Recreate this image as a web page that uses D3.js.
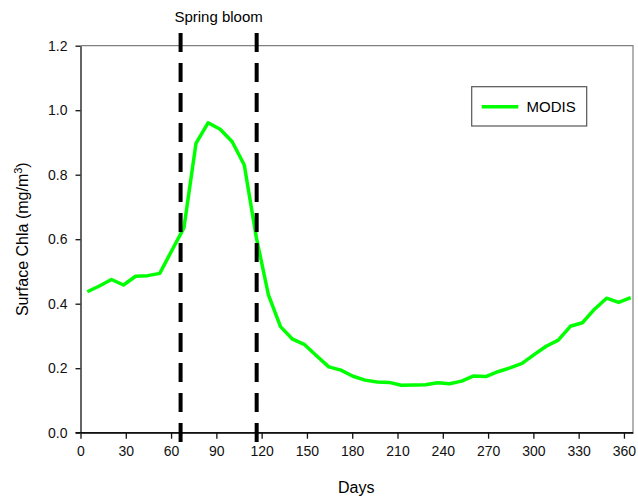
<!DOCTYPE html>
<html>
<head>
<meta charset="utf-8">
<script src="https://cdn.jsdelivr.net/npm/d3@7"></script>
<style>
  body { margin: 0; background: #fff; }
  svg { display: block; font-family: "Liberation Sans", Arial, sans-serif; }
  .tick text { font-size: 14px; fill: #111; }
</style>
</head>
<body>
<svg id="chart" width="638" height="497"></svg>
<script>
// 8-day composite centres (day of year) and surface Chla values (mg/m3)
const days = [4.5, 12.5, 20.5, 28.5, 36.5, 44.5, 52.5, 60.5, 68.5, 76.5, 84.5, 92.5,
  100.5, 108.5, 116.5, 124.5, 132.5, 140.5, 148.5, 156.5, 164.5, 172.5, 180.5, 188.5,
  196.5, 204.5, 212.5, 220.5, 228.5, 236.5, 244.5, 252.5, 260.5, 268.5, 276.5, 284.5,
  292.5, 300.5, 308.5, 316.5, 324.5, 332.5, 340.5, 348.5, 356.5, 364.5];
const chla = [0.437, 0.455, 0.475, 0.458, 0.485, 0.487, 0.494, 0.565, 0.635, 0.897, 0.961, 0.941,
  0.902, 0.830, 0.605, 0.427, 0.329, 0.290, 0.273, 0.238, 0.204, 0.194, 0.175, 0.163,
  0.157, 0.156, 0.147, 0.148, 0.149, 0.155, 0.152, 0.160, 0.176, 0.174, 0.189, 0.201,
  0.215, 0.242, 0.268, 0.287, 0.330, 0.341, 0.383, 0.417, 0.404, 0.419];
const bloomDays = [66.3, 116.7];
const xTicks = [0, 30, 60, 90, 120, 150, 180, 210, 240, 270, 300, 330, 360];
const yTicks = [0, 0.2, 0.4, 0.6, 0.8, 1.0, 1.2];
const seriesName = "MODIS";

const svg = d3.select("#chart");
const plotLeft = 80.5, plotRight = 633, plotTop = 45.7, plotBottom = 432.7;

const x = d3.scaleLinear().domain([0, 366]).range([plotLeft, plotRight]);
const y = d3.scaleLinear().domain([0, 1.2]).range([plotBottom, plotTop]);

// top and right frame (grey)
svg.append("path")
  .attr("d", `M${plotLeft},${plotTop}H${plotRight}V${plotBottom}`)
  .attr("fill", "none")
  .attr("stroke", "#808080")
  .attr("stroke-width", 1.2);

const yAxis = svg.append("g")
  .attr("transform", `translate(${plotLeft},0)`)
  .call(d3.axisLeft(y).tickValues(yTicks).tickFormat(d3.format(".1f")).tickSize(5).tickSizeOuter(0).tickPadding(8));

const xAxis = svg.append("g")
  .attr("transform", `translate(0,${plotBottom})`)
  .call(d3.axisBottom(x).tickValues(xTicks).tickSize(6).tickSizeOuter(0).tickPadding(7));

[xAxis, yAxis].forEach((g) => {
  g.selectAll("path, line").attr("stroke", "#111").attr("stroke-width", 1.3);
  g.selectAll("text").style("font-family", "Liberation Sans, Arial, sans-serif");
});
// extend bottom axis line under the 0.0 tick
svg.append("line")
  .attr("x1", plotLeft - 5).attr("x2", plotRight)
  .attr("y1", plotBottom).attr("y2", plotBottom)
  .attr("stroke", "#111").attr("stroke-width", 1.3);

const line = d3.line()
  .x((d, i) => x(days[i]))
  .y((d) => y(d));

svg.append("path")
  .datum(chla)
  .attr("fill", "none")
  .attr("stroke", "#00ff00")
  .attr("stroke-width", 3.5)
  .attr("stroke-linejoin", "round")
  .attr("d", line);

// spring bloom bounds
svg.selectAll("line.bloom")
  .data(bloomDays)
  .join("line")
  .attr("class", "bloom")
  .attr("x1", (d) => x(d)).attr("x2", (d) => x(d))
  .attr("y1", 33).attr("y2", 445)
  .attr("stroke", "#000")
  .attr("stroke-width", 4)
  .attr("stroke-dasharray", "19,11");

svg.append("text")
  .attr("x", (x(bloomDays[0]) + x(bloomDays[1])) / 2)
  .attr("y", 22)
  .attr("text-anchor", "middle")
  .style("font-size", "15px")
  .text("Spring bloom");

// legend
const legend = svg.append("g");
legend.append("rect")
  .attr("x", 471.7).attr("y", 86.7)
  .attr("width", 115).attr("height", 39.3)
  .attr("fill", "#fff")
  .attr("stroke", "#555")
  .attr("stroke-width", 1.2);
legend.append("line")
  .attr("x1", 481.7).attr("x2", 518.3)
  .attr("y1", 106.7).attr("y2", 106.7)
  .attr("stroke", "#00ff00")
  .attr("stroke-width", 3.5);
legend.append("text")
  .attr("x", 526.5).attr("y", 112)
  .style("font-size", "15px")
  .text(seriesName);

// axis titles
svg.append("text")
  .attr("x", (plotLeft + plotRight) / 2 - 0.5)
  .attr("y", 493)
  .attr("text-anchor", "middle")
  .style("font-size", "16px")
  .text("Days");

const yTitle = svg.append("text")
  .attr("transform", `translate(28,${(plotTop + plotBottom) / 2}) rotate(-90)`)
  .attr("text-anchor", "middle")
  .style("font-size", "16px");
yTitle.append("tspan").text("Surface Chla (mg/m");
yTitle.append("tspan").attr("dy", -6).style("font-size", "11px").text("3");
yTitle.append("tspan").attr("dy", 6).text(")");
</script>
</body>
</html>
